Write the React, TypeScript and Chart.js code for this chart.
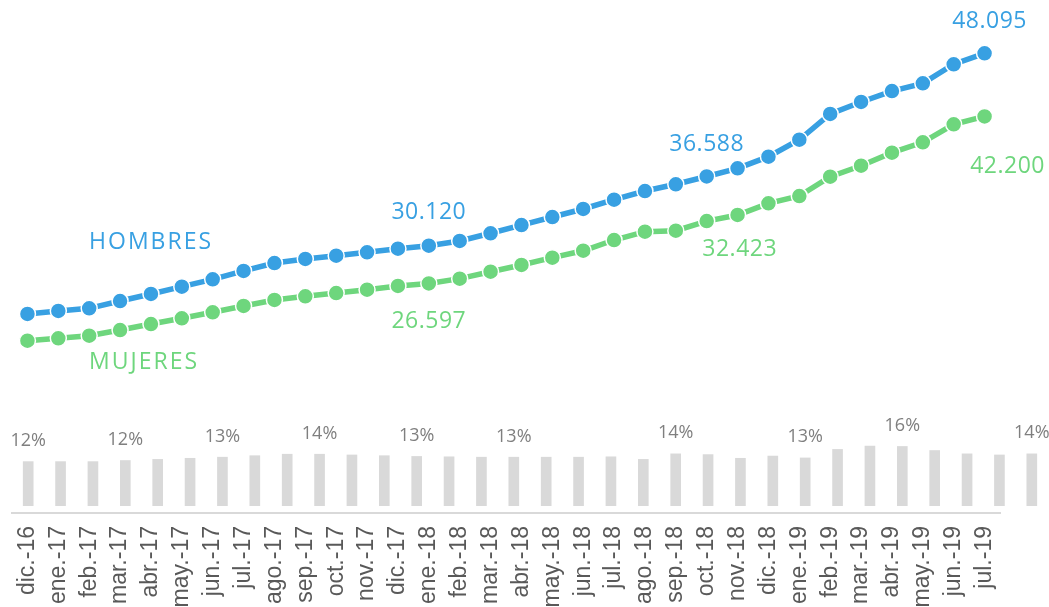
import React, { useEffect, useRef } from "react";
import { Chart, registerables } from "chart.js";

Chart.register(...registerables);

const labels = [
  "dic.-16", "ene.-17", "feb.-17", "mar.-17", "abr.-17", "may.-17", "jun.-17", "jul.-17",
  "ago.-17", "sep.-17", "oct.-17", "nov.-17", "dic.-17", "ene.-18", "feb.-18", "mar.-18",
  "abr.-18", "may.-18", "jun.-18", "jul.-18", "ago.-18", "sep.-18", "oct.-18", "nov.-18",
  "dic.-18", "ene.-19", "feb.-19", "mar.-19", "abr.-19", "may.-19", "jun.-19", "jul.-19",
];

const hombres = [
  23740, 24020, 24270, 24950, 25610, 26290, 26980, 27760,
  28500, 28880, 29190, 29500, 29840, 30120, 30560, 31280,
  32050, 32800, 33550, 34420, 35230, 35860, 36588, 37350,
  38440, 40020, 42430, 43550, 44570, 45290, 47070, 48095,
];

const mujeres = [
  21240, 21470, 21710, 22240, 22800, 23340, 23900, 24490,
  25050, 25390, 25700, 26010, 26360, 26597, 27040, 27690,
  28320, 29000, 29650, 30650, 31430, 31520, 32423, 32990,
  34080, 34760, 36570, 37590, 38810, 39780, 41460, 42200,
];

// share (%) shown as grey bars
const porcentaje = [
  12.0, 12.0, 12.0, 12.3, 12.6, 12.9, 13.2, 13.6,
  14.0, 14.0, 13.8, 13.6, 13.4, 13.3, 13.2, 13.2,
  13.2, 13.2, 13.3, 12.6, 14.1, 13.9, 12.9, 13.5,
  13.0, 15.3, 16.2, 16.1, 15.0, 14.1, 13.8, 14.1,
];

const porcentajeLabelIdx = [0, 3, 6, 9, 12, 15, 20, 24, 27, 31];
const valueLabelIdx = [13, 22, 31];
const seriesNames = ["HOMBRES", "MUJERES"];

const BLUE = "#38A0E2";
const GREEN = "#6ED67D";
const BAR_GREY = "#D9D9D9";
const PCT_GREY = "#7F7F7F";
const TICK_GREY = "#595959";
const LABEL_FONT = '"Open Sans"';

const fmt = (n: number) =>
  Math.round(n).toString().replace(/\B(?=(\d{3})+(?!\d))/g, ".");

// offsets (px) for value labels, per series, per label index
const valueOffsets: Record<number, Record<number, [number, number]>> = {
  0: { 13: [0, -35], 22: [0, -34], 31: [5, -34] },
  1: { 13: [0, 36], 22: [33, 27], 31: [23, 48] },
};
const nameAnchor: [number, number, number][] = [
  // [pointIndex, dx, dy] (left-aligned)
  [3, -31, -60],
  [3, -31, 31],
];

const lineLabelsPlugin = {
  id: "lineLabels",
  afterDatasetsDraw(chart: any) {
    const ctx = chart.ctx as CanvasRenderingContext2D;
    const size = 23;
    ctx.save();
    ctx.textBaseline = "alphabetic";
    chart.data.datasets.forEach((ds: any, di: number) => {
      const meta = chart.getDatasetMeta(di);
      const color = ds.borderColor;
      ctx.fillStyle = color;
      ctx.font = `${size}px ${LABEL_FONT}`;
      ctx.textAlign = "center";
      (ctx as any).letterSpacing = "0.5px";
      valueLabelIdx.forEach((i) => {
        const p = meta.data[i];
        const [dx, dy] = valueOffsets[di][i];
        ctx.fillText(fmt(ds.data[i]), p.x + dx, p.y + dy + size * 0.357);
      });
      const [ai, ax, ay] = nameAnchor[di];
      const pa = meta.data[ai];
      ctx.textAlign = "left";
      (ctx as any).letterSpacing = "2px";
      ctx.fillText(seriesNames[di], pa.x + ax, pa.y + ay + size * 0.357);
    });
    ctx.restore();
  },
};

const pctLabelsPlugin = {
  id: "pctLabels",
  afterDatasetsDraw(chart: any) {
    const ctx = chart.ctx as CanvasRenderingContext2D;
    const size = 18;
    const meta = chart.getDatasetMeta(0);
    ctx.save();
    ctx.fillStyle = PCT_GREY;
    ctx.font = `${size}px ${LABEL_FONT}`;
    ctx.textAlign = "center";
    ctx.textBaseline = "alphabetic";
    porcentajeLabelIdx.forEach((i) => {
      const b = meta.data[i];
      ctx.fillText(
        Math.round(porcentaje[i]) + "%",
        b.x,
        b.y - 22 + size * 0.357
      );
    });
    ctx.restore();
  },
};

export default function App() {
  const lineRef = useRef<HTMLCanvasElement>(null);
  const barRef = useRef<HTMLCanvasElement>(null);

  useEffect(() => {
    const barChart = new Chart(barRef.current!, {
      type: "bar",
      data: {
        labels,
        datasets: [
          {
            data: porcentaje,
            backgroundColor: BAR_GREY,
            barThickness: 10,
          },
        ],
      },
      options: {
        responsive: false,
        animation: false,
        devicePixelRatio: 1,
        layout: { padding: { left: 12, right: 1, top: 300, bottom: 101 } },
        plugins: { legend: { display: false }, tooltip: { enabled: false } },
        scales: {
          x: { display: false },
          y: { display: false, min: 0, max: 55.7 },
        },
      },
      plugins: [pctLabelsPlugin],
    });

    const lineChart = new Chart(lineRef.current!, {
      type: "line",
      data: {
        labels,
        datasets: [
          {
            label: "HOMBRES",
            data: hombres,
            borderColor: BLUE,
            backgroundColor: BLUE,
            borderWidth: 5.5,
            pointRadius: 8,
            pointBorderWidth: 1.5,
            pointBorderColor: "#FFFFFF",
            pointBackgroundColor: BLUE,
            tension: 0,
          },
          {
            label: "MUJERES",
            data: mujeres,
            borderColor: GREEN,
            backgroundColor: GREEN,
            borderWidth: 5.5,
            pointRadius: 8,
            pointBorderWidth: 1.5,
            pointBorderColor: "#FFFFFF",
            pointBackgroundColor: GREEN,
            tension: 0,
          },
        ],
      },
      options: {
        responsive: false,
        animation: false,
        devicePixelRatio: 1,
        layout: { padding: { left: 12, right: 49, top: 20, bottom: 0 } },
        plugins: { legend: { display: false }, tooltip: { enabled: false } },
        scales: {
          x: {
            offset: true,
            grid: { display: false, drawTicks: false },
            border: { display: true, color: "#D9D9D9", width: 2 },
            ticks: {
              autoSkip: false,
              minRotation: 90,
              maxRotation: 90,
              padding: 13,
              color: TICK_GREY,
              font: { family: '"Liberation Sans", Arial, sans-serif', size: 23 },
            },
            afterFit: (scale: any) => {
              scale.height = 94;
            },
          },
          y: { display: false, min: 5146, max: 51207 },
        },
      },
      plugins: [lineLabelsPlugin],
    });

    return () => {
      lineChart.destroy();
      barChart.destroy();
    };
  }, []);

  return (
    <div
      style={{
        position: "absolute",
        left: 0,
        top: 0,
        width: 1049,
        height: 607,
        overflow: "hidden",
        background: "#FFFFFF",
      }}
    >
      <canvas
        ref={barRef}
        width={1049}
        height={607}
        style={{ position: "absolute", left: 0, top: 0 }}
      />
      <canvas
        ref={lineRef}
        width={1049}
        height={607}
        style={{ position: "absolute", left: 0, top: 0 }}
      />
    </div>
  );
}
